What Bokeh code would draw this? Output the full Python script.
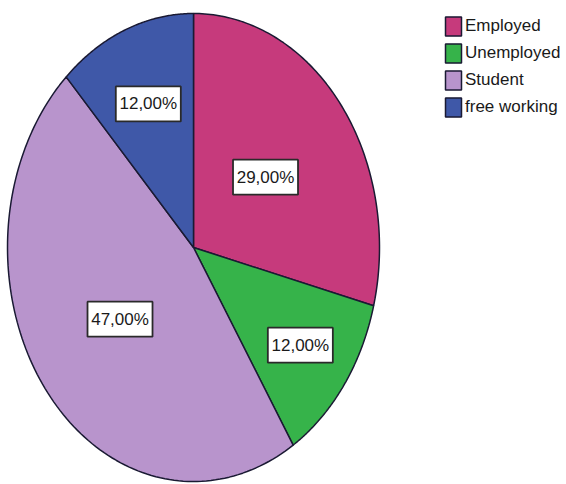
import numpy as np
from bokeh.plotting import figure
from bokeh.models import Range1d, ColumnDataSource, Legend, LegendItem
from bokeh.core.properties import value
from bokeh.embed import file_html
from bokeh.resources import INLINE

# ---- data ----
categories = ["Employed", "Unemployed", "Student", "free working"]
percents = [29.0, 12.0, 47.0, 12.0]
colors = ["#C63A7C", "#36B34A", "#B894CC", "#3F58A8"]

# ---- layout constants ----
W, H = 566, 484
CX_PX, CY_PX = 193, 247          # pie centre in screen pixels
RX, RY = 186, 234                # ellipse radii (pixels)
label_r = [0.49, 0.71, 0.50, 0.66]  # label distance as fraction of radius

p = figure(width=W, height=H, output_backend="svg", toolbar_location=None,
           x_range=Range1d(-CX_PX, W - CX_PX), y_range=Range1d(-(H - CY_PX), CY_PX),
           min_border=0, outline_line_color=None)
p.axis.visible = False
p.grid.visible = False
p.background_fill_color = "white"
p.border_fill_color = "white"

total = sum(percents)
frac = np.array(percents) / total
ends = np.cumsum(frac) * 2 * np.pi
starts = ends - frac * 2 * np.pi

renderers = []
lx, ly, ltxt = [], [], []
for i, (cat, s, e) in enumerate(zip(categories, starts, ends)):
    t = np.linspace(s, e, 120)
    xs = np.concatenate([[0], RX * np.sin(t), [0]])
    ys = np.concatenate([[0], RY * np.cos(t), [0]])
    r = p.patch(xs, ys, fill_color=colors[i], line_color="#1A1A33", line_width=1.5)
    renderers.append(r)
    mid = (s + e) / 2
    lx.append(label_r[i] * RX * np.sin(mid))
    ly.append(label_r[i] * RY * np.cos(mid))
    ltxt.append(f"{percents[i]:.2f}%".replace(".", ","))

src = ColumnDataSource(dict(x=lx, y=ly, text=ltxt))
p.rect("x", "y", width=65, height=35, width_units="screen", height_units="screen",
       source=src, fill_color="white", line_color="#2A2A2A", line_width=1.8)
p.text("x", "y", text="text", source=src, text_align="center", text_baseline="middle",
       text_font=value("Liberation Sans"), text_font_size="17px", text_color="#1A1A1A")

legend = Legend(items=[LegendItem(label=c, renderers=[r]) for c, r in zip(categories, renderers)],
                location=(443, 365), orientation="vertical",
                glyph_width=20, glyph_height=24, label_height=24, spacing=3,
                label_standoff=2, padding=0, margin=0, border_line_color=None,
                background_fill_alpha=0, label_text_font="Liberation Sans",
                label_text_font_size="17px", label_text_color="#1A1A1A")
p.add_layout(legend, "center")

open("out.html", "w").write(file_html(p, INLINE))
